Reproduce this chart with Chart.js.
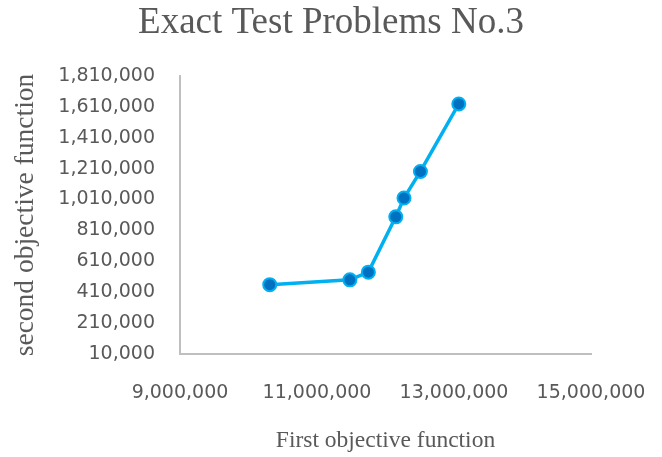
<!DOCTYPE html>
<html>
<head>
<meta charset="utf-8">
<script src="https://cdn.jsdelivr.net/npm/chart.js@4"></script>
<style>
  body { margin: 0; background: #fff; }
  canvas { display: block; }
</style>
</head>
<body>
<canvas id="chart" width="662" height="457"></canvas>
<script>
// ── Data ─────────────────────────────────────────────────────────────────────

const firstObjective  = [10310000, 11480000, 11750000, 12150000, 12270000, 12510000, 13070000];
const secondObjective = [459000, 490000, 540000, 898000, 1020000, 1192000, 1629000];

const xTicks = { min: 9000000, max: 15000000, step: 2000000 };
const yTicks = { min: 10000, max: 1810000, step: 200000 };

const grey = '#595959';
const fmt = v => Number(v).toLocaleString('en-US');

// ── Chart ────────────────────────────────────────────────────────────────────

const points = firstObjective.map((x, i) => ({ x, y: secondObjective[i] }));

new Chart(document.getElementById('chart').getContext('2d'), {
    type: 'scatter',
    data: {
        datasets: [{
            data: points,
            showLine: true,
            borderColor: '#00b0f0',
            borderWidth: 3.5,
            pointRadius: 6.5,
            pointBorderWidth: 2,
            pointBackgroundColor: '#0070c0',
            pointBorderColor: '#00b0f0',
            tension: 0,
        }]
    },
    options: {
        responsive: false,
        animation: false,
        layout: { padding: 0 },
        plugins: {
            legend: { display: false },
            tooltip: { enabled: false },
            title: {
                display: true,
                text: 'Exact Test Problems No.3',
                color: grey,
                font: { family: 'Liberation Serif', size: 37, weight: 'normal' },
                padding: { top: 1, bottom: 30.6 }
            }
        },
        scales: {
            x: {
                type: 'linear',
                min: xTicks.min,
                max: xTicks.max,
                grid: { display: false },
                border: { display: true, color: '#bfbfbf', width: 2 },
                ticks: {
                    stepSize: xTicks.step,
                    padding: 20,
                    color: grey,
                    font: { family: 'DejaVu Sans', size: 19 },
                    callback: v => fmt(v)
                },
                title: {
                    display: true,
                    text: 'First objective function',
                    color: grey,
                    font: { family: 'Liberation Serif', size: 23.5 },
                    padding: { top: 0, bottom: 2 }
                },
                afterFit: s => { s.height = 103; s.paddingRight = 71; }
            },
            y: {
                type: 'linear',
                min: yTicks.min,
                max: yTicks.max,
                grid: { display: false },
                border: { display: true, color: '#bfbfbf', width: 2 },
                ticks: {
                    stepSize: yTicks.step,
                    padding: 17,
                    color: grey,
                    font: { family: 'DejaVu Sans', size: 19 },
                    callback: v => fmt(v)
                },
                title: {
                    display: true,
                    text: 'second objective function',
                    color: grey,
                    font: { family: 'Liberation Serif', size: 27.5 },
                    padding: { top: 9, bottom: 0 }
                },
                afterFit: s => { s.width = 180; }
            }
        }
    }
});
</script>
</body>
</html>
